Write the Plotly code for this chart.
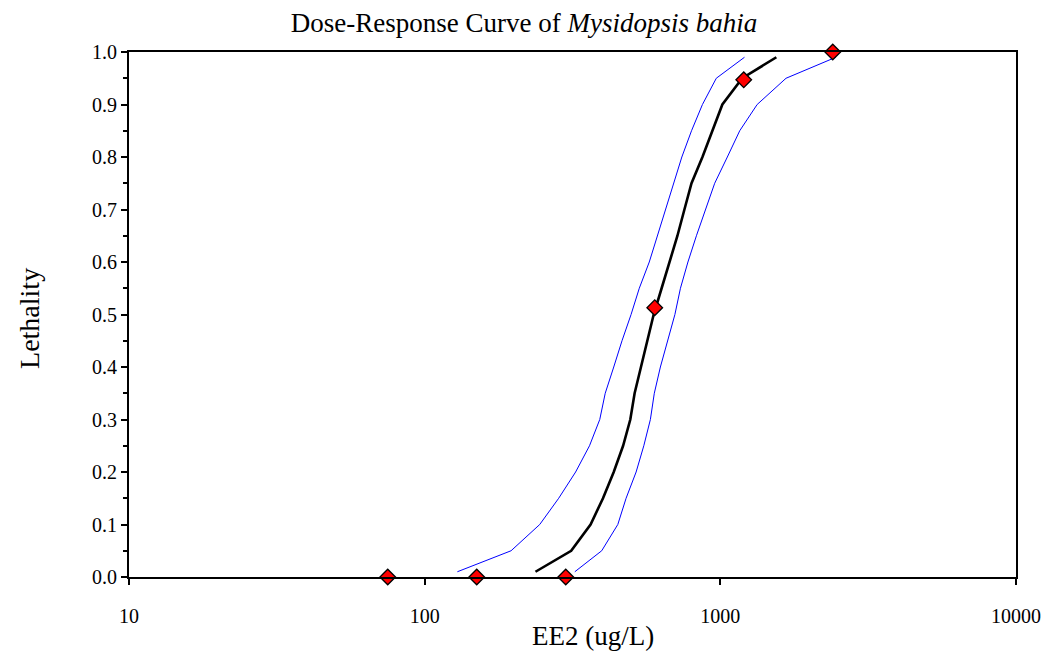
import plotly.graph_objects as go

# Observed toxicity data (EE2 concentration, ug/L vs. fraction dead)
obs_conc = [75, 150, 300, 600, 1200, 2400]
obs_lethality = [0.0, 0.0, 0.0, 0.513, 0.947, 1.0]

# Fitted probit curve and its confidence limits, read at fixed response levels
fit_levels = [0.01, 0.05, 0.10, 0.15, 0.20, 0.25, 0.30, 0.35, 0.40, 0.45, 0.50,
              0.55, 0.60, 0.65, 0.70, 0.75, 0.80, 0.85, 0.90, 0.95, 0.99]
fit_conc = [237, 313, 364, 401, 436, 469, 496, 513, 539, 565, 595,
            633, 673, 716, 756, 799, 870, 940, 1016, 1186, 1547]
lower_conc = [129, 196, 245, 284, 324, 361, 391, 408, 436, 465, 499,
              532, 575, 612, 651, 693, 741, 799, 870, 969, 1207]
upper_conc = [322, 397, 450, 480, 519, 551, 580, 598, 627, 663, 702,
              733, 777, 830, 890, 957, 1056, 1163, 1332, 1668, 2459]

x_ticks = [10, 100, 1000, 10000]
y_ticks = [0.0, 0.1, 0.2, 0.3, 0.4, 0.5, 0.6, 0.7, 0.8, 0.9, 1.0]

SERIF = "Liberation Serif, Times New Roman, serif"
W, H = 1053, 655

fig = go.Figure()

for conc in (lower_conc, upper_conc):
    fig.add_trace(go.Scatter(
        x=conc, y=fit_levels, mode="lines",
        line=dict(color="#0000ff", width=1), showlegend=False,
    ))

fig.add_trace(go.Scatter(
    x=fit_conc, y=fit_levels, mode="lines",
    line=dict(color="black", width=2.6), showlegend=False,
))

fig.add_trace(go.Scatter(
    x=obs_conc, y=obs_lethality, mode="markers",
    marker=dict(symbol="diamond", size=12, color="#ff0000",
                line=dict(color="black", width=1.3)),
    cliponaxis=False, showlegend=False,
))

fig.update_layout(
    width=W, height=H,
    margin=dict(l=129, r=33, t=52, b=78),
    paper_bgcolor="white", plot_bgcolor="white",
    font=dict(family=SERIF, color="black", size=20),
    title=dict(
        text="Dose-Response Curve of <i>Mysidopsis bahia</i>",
        x=524 / W, xanchor="center", y=1 - 23 / H, yanchor="middle",
        font=dict(family=SERIF, size=27, color="black"),
    ),
    showlegend=False,
)

fig.update_xaxes(
    type="log", range=[1, 4],
    tickvals=x_ticks, ticktext=[str(v) for v in x_ticks],
    ticks="outside", ticklen=6, tickwidth=2, tickcolor="black",
    ticklabelstandoff=14,
    showline=True, linecolor="black", linewidth=2, mirror=True,
    showgrid=False, zeroline=False,
    tickfont=dict(family=SERIF, size=20, color="black"),
)
fig.update_yaxes(
    range=[0, 1],
    tickvals=y_ticks, ticktext=[f"{v:.1f}" for v in y_ticks],
    ticks="outside", ticklen=6, tickwidth=2, tickcolor="black",
    minor=dict(dtick=0.05, ticks="outside", ticklen=4, tickwidth=2, tickcolor="black"),
    showline=True, linecolor="black", linewidth=2, mirror=True,
    showgrid=False, zeroline=False,
    tickfont=dict(family=SERIF, size=20, color="black"),
)

# Axis titles placed as annotations to match the original positions
fig.add_annotation(
    text="EE2 (ug/L)", xref="paper", yref="paper",
    x=0.523, y=-0.112, xanchor="center", yanchor="middle",
    showarrow=False, font=dict(family=SERIF, size=27, color="black"),
)
fig.add_annotation(
    text="Lethality", xref="paper", yref="paper",
    x=-0.113, y=0.493, xanchor="center", yanchor="middle", textangle=-90,
    showarrow=False, font=dict(family=SERIF, size=28, color="black"),
)

# drop the default 8px body margin so the figure fills the window exactly
fig.write_html(
    "out.html",
    config={"displayModeBar": False},
    post_script="document.body.style.margin = '0';",
)
